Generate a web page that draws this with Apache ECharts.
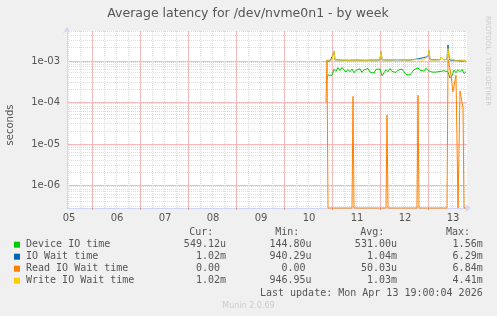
<!DOCTYPE html>
<html><head><meta charset="utf-8">
<script src="https://cdn.jsdelivr.net/npm/echarts@6/dist/echarts.min.js"></script>
<style>html,body{margin:0;padding:0;background:#F0F0F0;}#c{width:497px;height:316px;}</style>
</head><body><div id="c"></div>
<script>
// ---- tick labels (x in hours since Apr 05 00:00) ----
const dayLabels = ['05','06','07','08','09','10','11','12','13'];
const dayLabelHours = [0,24,48,72,96,120,144,168,192];
const yTickValues = [1e-6,1e-5,1e-4,1e-3];
const yTickLabels = ['1e-06','1e-05','1e-04','1e-03'];

// ---- series data ----
// Device IO time: hourly samples starting at hour 128.5
const deviceStart = 128.5;
const deviceStep = 1;
const deviceVals = [
 3.0e-4,4.6e-4,4.3e-4,4.5e-4,6.3e-4,5.6e-4,6.9e-4,5.9e-4,7.0e-4,6.1e-4,
 5.4e-4,6.2e-4,5.5e-4,6.4e-4,5.2e-4,6.0e-4,5.6e-4,6.5e-4,5.3e-4,6.1e-4,
 5.7e-4,6.6e-4,5.4e-4,6.0e-4,5.1e-4,6.3e-4,5.8e-4,6.4e-4,4.4e-4,5.2e-4,
 6.2e-4,5.5e-4,6.6e-4,5.6e-4,6.1e-4,5.3e-4,6.0e-4,5.7e-4,6.4e-4,5.5e-4,
 4.7e-4,5.0e-4,4.6e-4,5.3e-4,6.2e-4,5.8e-4,6.8e-4,6.0e-4,6.5e-4,5.7e-4,
 6.7e-4,5.9e-4,6.4e-4,5.4e-4,5.1e-4,5.4e-4,5.0e-4,5.6e-4,5.2e-4,5.8e-4,
 5.4e-4,5.5e-4,3.9e-4,4.4e-4,6.0e-4,5.2e-4,6.2e-4,5.5e-4,6.3e-4,5.0e-4,
 5.5e-4];

const ioHours = [128.5,130.5,131.5,132,132.5,133,136,140,144,148,152,155.5,156,156.5,160,164,170,174.5,175,179.5,180,180.5,185.5,186,186.5,187.5,189,189.5,190,190.5,193,194,196.5,198.5];
const ioVals  = [1.0e-3,1.01e-3,1.05e-3,1.4e-3,1.72e-3,1.07e-3,1.05e-3,1.04e-3,1.05e-3,1.04e-3,1.05e-3,1.06e-3,1.68e-3,1.07e-3,1.05e-3,1.07e-3,1.05e-3,1.12e-3,1.07e-3,1.28e-3,1.78e-3,1.07e-3,1.07e-3,1.24e-3,1.19e-3,1.06e-3,1.12e-3,2.45e-3,1.3e-3,1.06e-3,1.03e-3,1.0e-3,1.0e-3,1.02e-3];

const readHours = [128.5,129,129.5,141.5,142,142.5,158.5,159,159.5,174,174.5,175,189,189.5,190,190.5,191,191.5,192,192.5,193,193.5,194,194.5,195,195.5,196,196.5,197,197.5,198.5];
const readVals  = [1.0e-4,9.5e-4,0,0,1.4e-4,0,0,5.0e-5,0,0,1.5e-4,0,0,1.1e-3,1.0e-3,6.5e-4,4.5e-4,2.8e-4,1.8e-4,2.4e-4,3.5e-4,4.5e-4,4.2e-4,0,0,1.9e-4,1.4e-4,1.0e-4,7.5e-5,0,0];

const writeHours = [128.5,130,131.5,132,132.5,133,136,140,144,148,152,155.5,156,156.5,160,162.5,164,166.5,170,174,174.5,175,177,179.5,180,180.5,183,185.5,186,186.5,187.5,189,189.5,190,190.5,193,196,198.5];
const writeVals  = [1.05e-3,1.05e-3,1.06e-3,1.4e-3,1.75e-3,1.07e-3,1.05e-3,1.04e-3,1.05e-3,1.04e-3,1.05e-3,1.06e-3,1.7e-3,1.07e-3,1.05e-3,1.07e-3,1.08e-3,1.06e-3,1.05e-3,1.08e-3,1.13e-3,1.07e-3,1.05e-3,1.3e-3,1.8e-3,1.07e-3,1.05e-3,1.08e-3,1.25e-3,1.2e-3,1.06e-3,1.1e-3,2.0e-3,1.15e-3,1.05e-3,1.04e-3,1.05e-3,1.02e-3];

// ---- legend / stats ----
const legendNames = ['Device IO time','IO Wait time','Read IO Wait time','Write IO Wait time'];
const colors = ['#00CC00','#0066B3','#FF8000','#FFCC00'];
const statHeaders = ['Cur:','Min:','Avg:','Max:'];
const curVals = ['549.12u','1.02m','0.00 ','1.02m'];
const minVals = ['144.80u','940.29u','0.00 ','946.95u'];
const avgVals = ['531.00u','1.04m','50.03u','1.03m'];
const maxVals = ['1.56m','6.29m','6.84m','4.41m'];
const lastUpdate = 'Last update: Mon Apr 13 19:00:04 2026';

// ---- scales ----
const X_MIN = -1, X_MAX = 199;
const Y_MIN = 2.87e-7, Y_MAX = 5.28e-3;

const clampLow = v => (v <= Y_MIN ? Y_MIN : v);
const devData = deviceVals.map((v,i) => [deviceStart + i*deviceStep, v]);
const ioData = ioHours.map((h,i) => [h, ioVals[i]]);
const readData = readHours.map((h,i) => [h, clampLow(readVals[i])]);
const writeData = writeHours.map((h,i) => [h, writeVals[i]]);

// grid lines (styling)
const vMinor = [], vMajor = [], hMinor = [];
for (let h = 11.65 - 12; h <= X_MAX; h += 6) {
  if (h < X_MIN + 0.5) continue;
  const isMajor = Math.abs(((h - 11.65) % 24 + 24) % 24) < 0.01;
  (isMajor ? vMajor : vMinor).push([+h.toFixed(2), Y_MIN]);
}
for (let e = -7; e <= -3; e++) {
  for (let m = 2; m <= 9; m++) {
    const v = m * Math.pow(10, e);
    if (v < Y_MIN || v > Y_MAX) continue;
    hMinor.push([X_MIN, v]);
  }
}
const MINOR_C = '#DDDDDD', MAJOR_C = '#F5BBBB';
function gridRender(vertical, color, dash) {
  return function (params, api) {
    const cs = params.coordSys;
    const p = api.coord([api.value(0), api.value(1)]);
    let shape;
    if (vertical) {
      const x = Math.round(p[0]) + 0.5;
      shape = {x1:x, y1:cs.y, x2:x, y2:cs.y + cs.height};
    } else {
      const y = Math.round(p[1]) - 0.5;
      shape = {x1:cs.x, y1:y, x2:cs.x + cs.width, y2:y};
    }
    return {type:'line', shape, style:{stroke:color, lineWidth:1, lineDash:dash, fill:null}};
  };
}
const gridSeries = (name, data, vertical, color, dash, z) => ({
  type:'custom', name, data, encode:{x:0, y:1}, renderItem:gridRender(vertical, color, dash),
  silent:true, z, animation:false, clip:false, itemStyle:{color}
});

const txt = '#555555';
const graphics = [
  {type:'text', x:248, y:13.5, style:{text:'Average latency for /dev/nvme0n1 - by week', align:'center', verticalAlign:'middle', font:'12.5px "DejaVu Sans"', fill:txt}},
  {type:'text', x:10.8, y:125, rotation:Math.PI/2, style:{text:'seconds', align:'center', verticalAlign:'middle', font:'10px "DejaVu Sans"', fill:txt}},
  {type:'text', x:487.5, y:61, rotation:-Math.PI/2, style:{text:'RRDTOOL / TOBI OETIKER', align:'center', verticalAlign:'middle', font:'7px "DejaVu Sans"', fill:'#CCCCCC'}},
  {type:'text', x:482.7, y:293, style:{text:lastUpdate, align:'right', verticalAlign:'middle', font:'10px "DejaVu Sans Mono"', fill:txt}},
  {type:'text', x:248.5, y:305.5, style:{text:'Munin 2.0.69', align:'center', verticalAlign:'middle', font:'8px "DejaVu Sans"', fill:'#CCCCCC'}}
];
const headerX = [213.3, 299.3, 384.3, 470];
const colRight = [226, 311.6, 397, 482.7];
statHeaders.forEach((h,i) => graphics.push({type:'text', x:headerX[i], y:232.3, style:{text:h, align:'right', verticalAlign:'middle', font:'10px "DejaVu Sans Mono"', fill:txt}}));
const cols = [curVals, minVals, avgVals, maxVals];
legendNames.forEach((n,r) => {
  const y = 244.7 + 12*r;
  graphics.push({type:'rect', shape:{x:14, y:y-3, width:6, height:6}, style:{fill:colors[r]}});
  graphics.push({type:'text', x:26, y:y, style:{text:n, align:'left', verticalAlign:'middle', font:'10px "DejaVu Sans Mono"', fill:txt}});
  cols.forEach((c,ci) => graphics.push({type:'text', x:colRight[ci], y:y, style:{text:c[r], align:'right', verticalAlign:'middle', font:'10px "DejaVu Sans Mono"', fill:txt}}));
});

const chart = echarts.init(document.getElementById('c'), null, {renderer:'canvas'});
const lineS = (name, data, color, extra) => Object.assign({
  name, type:'line', data, showSymbol:false, symbol:'none', animation:false,
  lineStyle:{color, width:1}, itemStyle:{color}, z:3
}, extra||{});

chart.setOption({
  animation:false,
  backgroundColor:'#F0F0F0',
  grid:{left:67, top:31, width:400, height:177, show:true, backgroundColor:'#FFFFFF', borderWidth:0, containLabel:false},
  xAxis:{type:'value', min:X_MIN, max:X_MAX,
    axisLine:{show:true, onZero:false, lineStyle:{color:'#CFD6F8', width:1}, symbol:['none','arrow'], symbolSize:[6,6], symbolOffset:[0,4]},
    axisTick:{show:true, customValues:vMajor.map(d => d[0]), length:2, lineStyle:{color:'#F09090'}},
    axisLabel:{customValues:dayLabelHours, formatter:v => { const i = dayLabelHours.indexOf(v); return i >= 0 ? dayLabels[i] : ''; }, color:txt, fontSize:10, fontFamily:'DejaVu Sans', margin:5},
    splitLine:{show:false}},
  yAxis:{type:'log', logBase:10, min:Y_MIN, max:Y_MAX,
    axisLine:{show:true, onZero:false, lineStyle:{color:'#CFD6F8', width:1}, symbol:['none','arrow'], symbolSize:[6,6], symbolOffset:[0,4]},
    axisTick:{show:false},
    axisLabel:{showMinLabel:false, showMaxLabel:false, color:txt, fontSize:10, fontFamily:'DejaVu Sans', margin:7,
      formatter:v => { const i = yTickValues.findIndex(t => Math.abs(Math.log10(t) - Math.log10(v)) < 1e-6); return i >= 0 ? yTickLabels[i] : ''; }},
    splitLine:{show:true, showMinLine:false, showMaxLine:false, lineStyle:{color:MAJOR_C, width:1, type:'solid'}},
    minorTick:{show:false}, minorSplitLine:{show:false}},
  graphic:graphics,
  series:[
    gridSeries('hgrid', hMinor, false, MINOR_C, [1,1], 1),
    gridSeries('vgrid', vMinor, true, MINOR_C, [1,1], 1),
    gridSeries('vgridMajor', vMajor, true, MAJOR_C, null, 2),
    lineS(legendNames[0], devData, colors[0]),
    lineS(legendNames[1], ioData, colors[1]),
    lineS(legendNames[2], readData, colors[2], {clip:false}),
    lineS(legendNames[3], writeData, colors[3])
  ]
});
</script></body></html>
